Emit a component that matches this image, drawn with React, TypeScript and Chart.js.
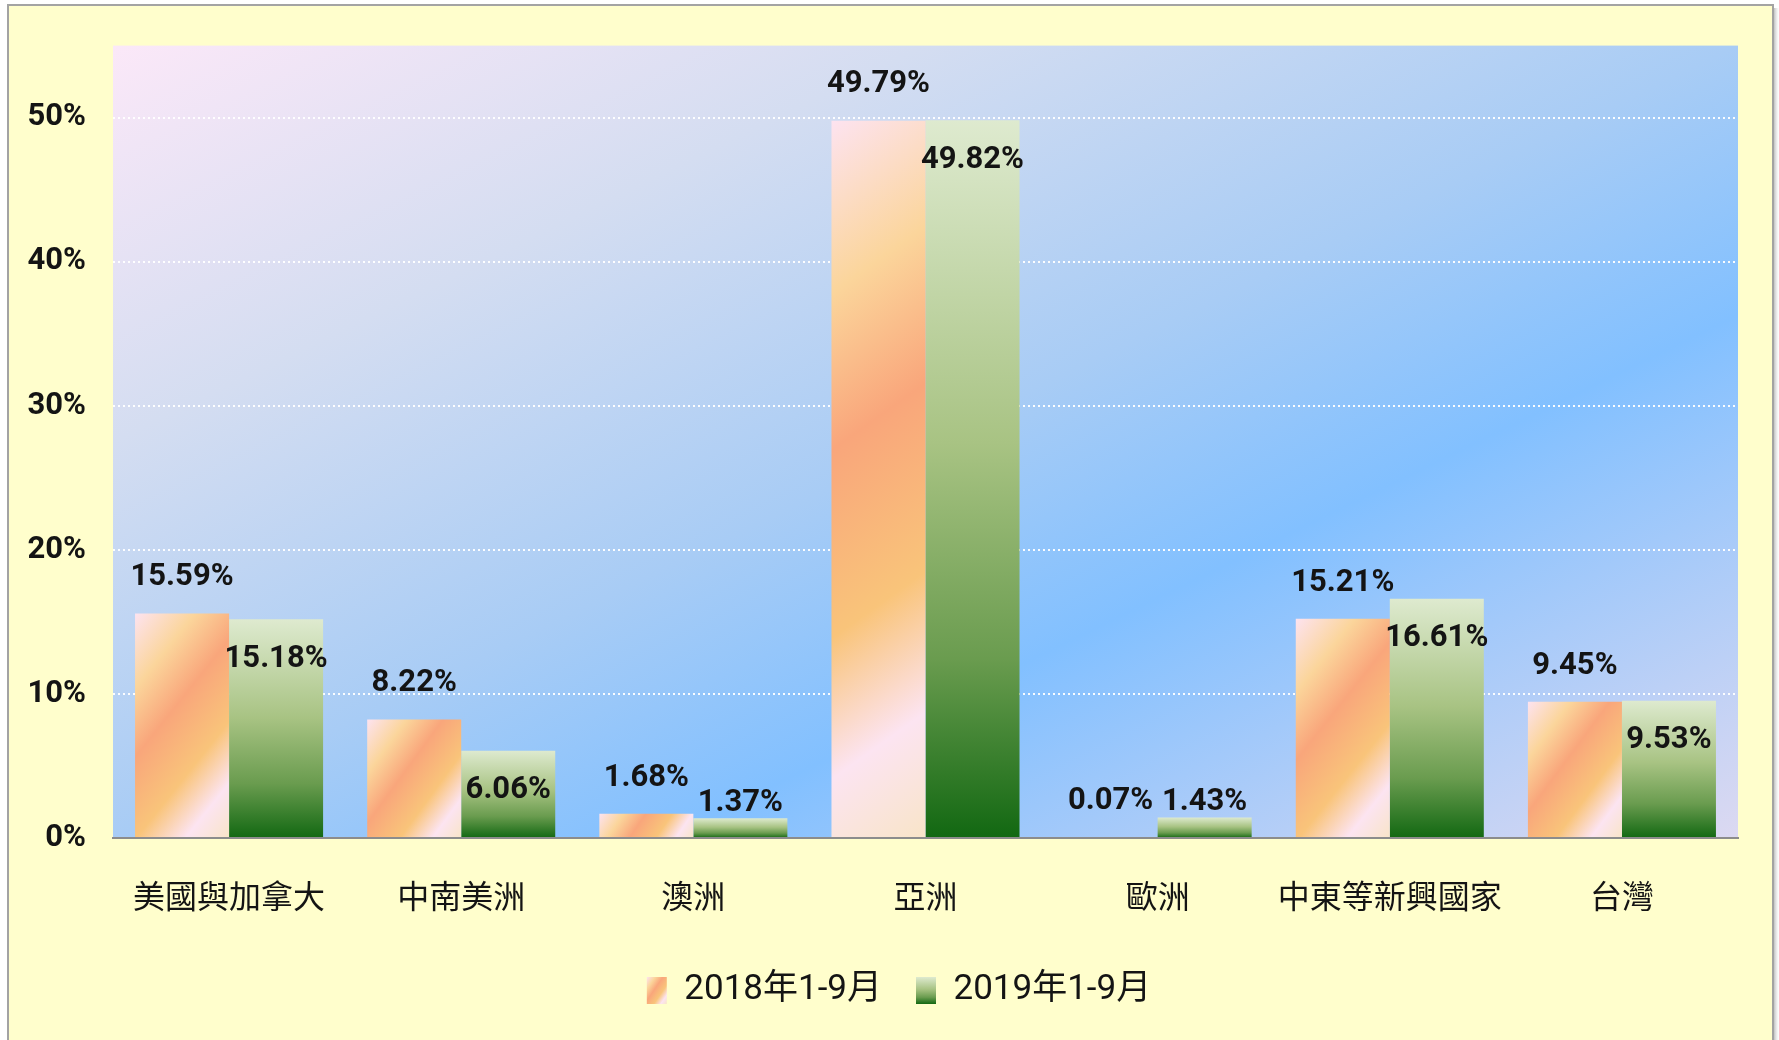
import React, { useEffect, useRef } from 'react';
import { Chart, registerables } from 'chart.js';

Chart.register(...registerables);

// ---------------- data ----------------
const categories = ['美國與加拿大', '中南美洲', '澳洲', '亞洲', '歐洲', '中東等新興國家', '台灣'];
const series2018 = [15.59, 8.22, 1.68, 49.79, 0.07, 15.21, 9.45];
const series2019 = [15.18, 6.06, 1.37, 49.82, 1.43, 16.61, 9.53];
const seriesLabels = ['2018年1-9月', '2019年1-9月'];
const yMin = 0;
const yMax = 55;
const yStep = 10;

// ---------------- styles ----------------
const W = 1779;
const H = 1040;
const CAT_PCT = 0.81;
const NARROW = "Roboto, 'Noto Sans CJK TC', sans-serif";
const CJK = "'Noto Sans CJK TC', 'Noto Sans CJK SC', sans-serif";
const TEXT = '#141414';
const LEGEND_FONT = 35;

function orangeGrad(c: CanvasRenderingContext2D, x: number, y: number, w: number, h: number) {
  const s = Math.max(0.6, 1.5 - 0.0011 * h);
  const t = (w * s + h) / (s * s + 1);
  const g = c.createLinearGradient(x, y, x + t * s, y + t);
  g.addColorStop(0, '#FDE3F0');
  g.addColorStop(0.22, '#FBD59B');
  g.addColorStop(0.42, '#F9A67B');
  g.addColorStop(0.66, '#F9C47A');
  g.addColorStop(0.84, '#FCE4F1');
  g.addColorStop(1, '#F8E4C8');
  return g;
}

function greenGrad(c: CanvasRenderingContext2D, y: number, h: number) {
  const g = c.createLinearGradient(0, y, 0, y + h);
  g.addColorStop(0, '#DEEACF');
  g.addColorStop(0.45, '#A8C383');
  g.addColorStop(0.75, '#6A9C4F');
  g.addColorStop(1, '#126812');
  return g;
}

function barGeom(ctx: any) {
  const chart = ctx.chart;
  const xs = chart.scales?.x;
  const ys = chart.scales?.y;
  if (!xs || !ys || typeof ctx.dataIndex !== 'number') return null;
  const catW = (xs.right - xs.left) / categories.length;
  if (!(catW > 0)) return null;
  const groupW = catW * CAT_PCT;
  const barW = groupW / 2;
  const cx = xs.getPixelForValue(ctx.dataIndex);
  const left = cx - groupW / 2 + ctx.datasetIndex * barW;
  const top = ys.getPixelForValue(ctx.raw as number);
  const bottom = ys.getPixelForValue(0);
  return { left, top, w: barW, h: Math.max(bottom - top, 1) };
}

const framePlugin = {
  id: 'frame',
  beforeDraw(chart: any) {
    const c: CanvasRenderingContext2D = chart.ctx;
    const a = chart.chartArea;
    c.save();
    c.fillStyle = '#FFFFFF';
    c.fillRect(0, 0, W, H);
    const sg = c.createLinearGradient(1773, 0, 1779, 0);
    sg.addColorStop(0, 'rgba(120,120,120,0.6)');
    sg.addColorStop(1, 'rgba(200,200,200,0)');
    c.fillStyle = sg;
    c.fillRect(1773, 8, 6, H);
    c.fillStyle = '#FFFECC';
    c.fillRect(8, 5, 1765, H);
    c.strokeStyle = '#A3A3A3';
    c.lineWidth = 2;
    c.beginPath();
    c.moveTo(8, H + 5);
    c.lineTo(8, 5);
    c.lineTo(1773, 5);
    c.lineTo(1773, H + 5);
    c.stroke();
    const w = a.right - a.left;
    const h = a.bottom - a.top;
    const dx = h, dy = w;
    const t = (w * dx + h * dy) / (dx * dx + dy * dy);
    const g = c.createLinearGradient(a.left, a.top, a.left + t * dx, a.top + t * dy);
    g.addColorStop(0, '#FBE8F8');
    g.addColorStop(0.25, '#D4DDF1');
    g.addColorStop(0.5, '#A8CCF5');
    g.addColorStop(0.67, '#82C0FF');
    g.addColorStop(1, '#DCD9F1');
    c.fillStyle = g;
    c.fillRect(a.left, a.top, w, h);
    c.restore();
  },
};

const legendPlugin = {
  id: 'legendTweak',
  afterLayout(chart: any) {
    const lg = chart.legend;
    if (lg) {
      lg.left += 30;
      lg.right += 30;
    }
  },
  afterUpdate(chart: any) {
    const lg = chart.legend;
    if (!lg || !lg.legendItems || !lg.legendHitBoxes) return;
    const c: CanvasRenderingContext2D = chart.ctx;
    lg.legendItems.forEach((item: any, i: number) => {
      const hb = lg.legendHitBoxes[i];
      if (!hb) return;
      const bw = 20, bh = 27;
      const x0 = hb.left;
      const y0 = hb.top + Math.max((LEGEND_FONT - bh) / 2, 0);
      item.fillStyle = i === 0 ? orangeGrad(c, x0, y0, bw, bh) : greenGrad(c, y0, bh);
      item.lineWidth = 0;
      item.strokeStyle = 'rgba(0,0,0,0)';
    });
  },
};

const valueLabelPlugin = {
  id: 'valueLabels',
  afterDatasetsDraw(chart: any) {
    const c: CanvasRenderingContext2D = chart.ctx;
    c.save();
    c.font = `bold 31px ${NARROW}`;
    c.fillStyle = TEXT;
    c.textAlign = 'center';
    c.textBaseline = 'middle';
    chart.data.datasets.forEach((ds: any, di: number) => {
      const meta = chart.getDatasetMeta(di);
      meta.data.forEach((el: any, i: number) => {
        const v = ds.data[i] as number;
        const txt = v.toFixed(2) + '%';
        let y: number;
        if (di === 0) y = el.y - 36;
        else y = v < 3 ? el.y - 15 : el.y + 40;
        c.fillText(txt, el.x, y);
      });
    });
    c.restore();
  },
};

export default function App() {
  const ref = useRef<HTMLCanvasElement | null>(null);

  useEffect(() => {
    document.body.style.margin = '0';
    document.body.style.overflow = 'hidden';
    document.documentElement.style.overflow = 'hidden';
    const canvas = ref.current;
    if (!canvas) return;

    const chart = new Chart(canvas, {
      type: 'bar',
      data: {
        labels: categories,
        datasets: [
          {
            label: seriesLabels[0],
            data: series2018,
            backgroundColor: (ctx: any) => {
              const gm = barGeom(ctx);
              if (!gm) return '#F9B07C';
              return orangeGrad(ctx.chart.ctx, gm.left, gm.top, gm.w, gm.h);
            },
            borderWidth: 0,
            categoryPercentage: CAT_PCT,
            barPercentage: 1.0,
          },
          {
            label: seriesLabels[1],
            data: series2019,
            backgroundColor: (ctx: any) => {
              const gm = barGeom(ctx);
              if (!gm) return '#5E9648';
              return greenGrad(ctx.chart.ctx, gm.top, gm.h);
            },
            borderWidth: 0,
            categoryPercentage: CAT_PCT,
            barPercentage: 1.0,
          },
        ],
      },
      options: {
        responsive: false,
        animation: false,
        devicePixelRatio: 1,
        layout: { padding: { top: 44, right: 41, bottom: 22, left: 0 } },
        plugins: {
          tooltip: { enabled: false },
          title: { display: false },
          legend: {
            display: true,
            position: 'bottom',
            labels: {
              color: TEXT,
              font: { family: NARROW, size: LEGEND_FONT, weight: 'normal' },
              boxWidth: 20,
              boxHeight: 27,
              padding: 34,
            },
          },
        },
        scales: {
          x: {
            grid: { display: false, drawTicks: false },
            border: { display: true, color: '#8C8C8C', width: 2 },
            ticks: {
              color: TEXT,
              font: { family: CJK, size: 32, weight: 'normal' },
              padding: 39,
              maxRotation: 0,
              autoSkip: false,
            },
            afterFit: (scale: any) => {
              scale.height = 101;
            },
          },
          y: {
            min: yMin,
            max: yMax,
            grid: {
              drawTicks: false,
              lineWidth: 2,
              color: (ctx: any) =>
                ctx.tick && ctx.tick.value === 0 ? 'rgba(0,0,0,0)' : 'rgba(255,255,255,0.95)',
            },
            border: { display: false, dash: [2, 3] },
            ticks: {
              stepSize: yStep,
              includeBounds: false,
              color: TEXT,
              font: { family: NARROW, size: 31, weight: 'bold' },
              padding: 27,
              callback: (v: any) => `${v}%`,
            },
            afterFit: (scale: any) => {
              scale.width = 113;
            },
          },
        },
      },
      plugins: [framePlugin, legendPlugin, valueLabelPlugin],
    } as any);

    return () => {
      chart.destroy();
    };
  }, []);

  return (
    <div style={{ width: W, height: H }}>
      <canvas ref={ref} width={W} height={H} style={{ display: 'block', width: W, height: H }} />
    </div>
  );
}
